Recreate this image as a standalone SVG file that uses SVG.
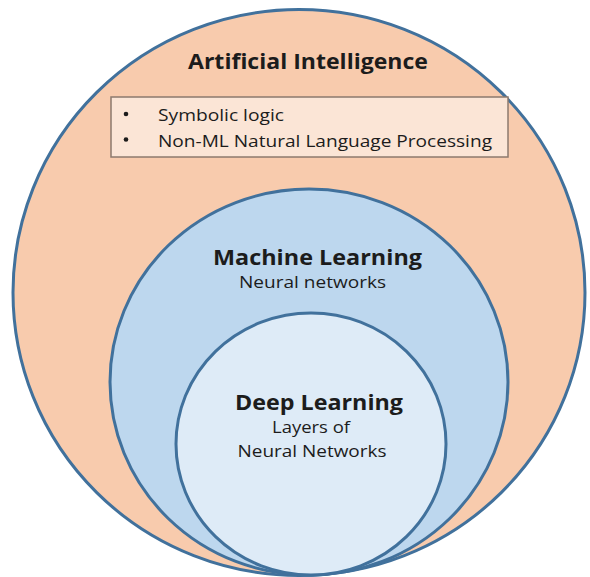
<svg xmlns="http://www.w3.org/2000/svg" width="590" height="577" viewBox="0 0 590 577">
<style>
.ring{stroke:#41719c;stroke-width:3}
.t{font-family:"Open Sans","Liberation Sans",sans-serif;fill:#1c1c1c}
.b{font-weight:700}
</style>
<rect width="590" height="577" fill="#ffffff"/>
<g id="ai">
<ellipse class="ring" cx="299" cy="292.5" rx="286" ry="283" fill="#f8cbad"/>
<text class="t b" x="308" y="69" font-size="21" text-anchor="middle" textLength="240" lengthAdjust="spacingAndGlyphs">Artificial Intelligence</text>
<rect x="111" y="97" width="397" height="60" fill="#fbe5d6" stroke="#8c7a6e" stroke-width="1.5"/>
<circle cx="126" cy="114" r="2.3" fill="#1c1c1c"/>
<circle cx="126" cy="139.5" r="2.3" fill="#1c1c1c"/>
<text class="t" x="158" y="121" font-size="16.5" textLength="126" lengthAdjust="spacingAndGlyphs">Symbolic logic</text>
<text class="t" x="158" y="146.5" font-size="16.5" textLength="334" lengthAdjust="spacingAndGlyphs">Non-ML Natural Language Processing</text>
</g>
<g id="ml">
<ellipse class="ring" cx="309" cy="382" rx="199" ry="193" fill="#bdd7ee"/>
<text class="t b" x="317.5" y="265" font-size="21" text-anchor="middle" textLength="209" lengthAdjust="spacingAndGlyphs">Machine Learning</text>
<text class="t" x="312.5" y="288" font-size="15.5" text-anchor="middle" textLength="147" lengthAdjust="spacingAndGlyphs">Neural networks</text>
</g>
<g id="dl">
<ellipse class="ring" cx="311" cy="444" rx="135" ry="131" fill="#deebf7"/>
<text class="t b" x="319" y="410" font-size="21" text-anchor="middle" textLength="168" lengthAdjust="spacingAndGlyphs">Deep Learning</text>
<text class="t" x="311" y="433" font-size="15.5" text-anchor="middle" textLength="78" lengthAdjust="spacingAndGlyphs">Layers of</text>
<text class="t" x="312" y="457" font-size="15.5" text-anchor="middle" textLength="149" lengthAdjust="spacingAndGlyphs">Neural Networks</text>
</g>
<g id="connectors"/>
</svg>
